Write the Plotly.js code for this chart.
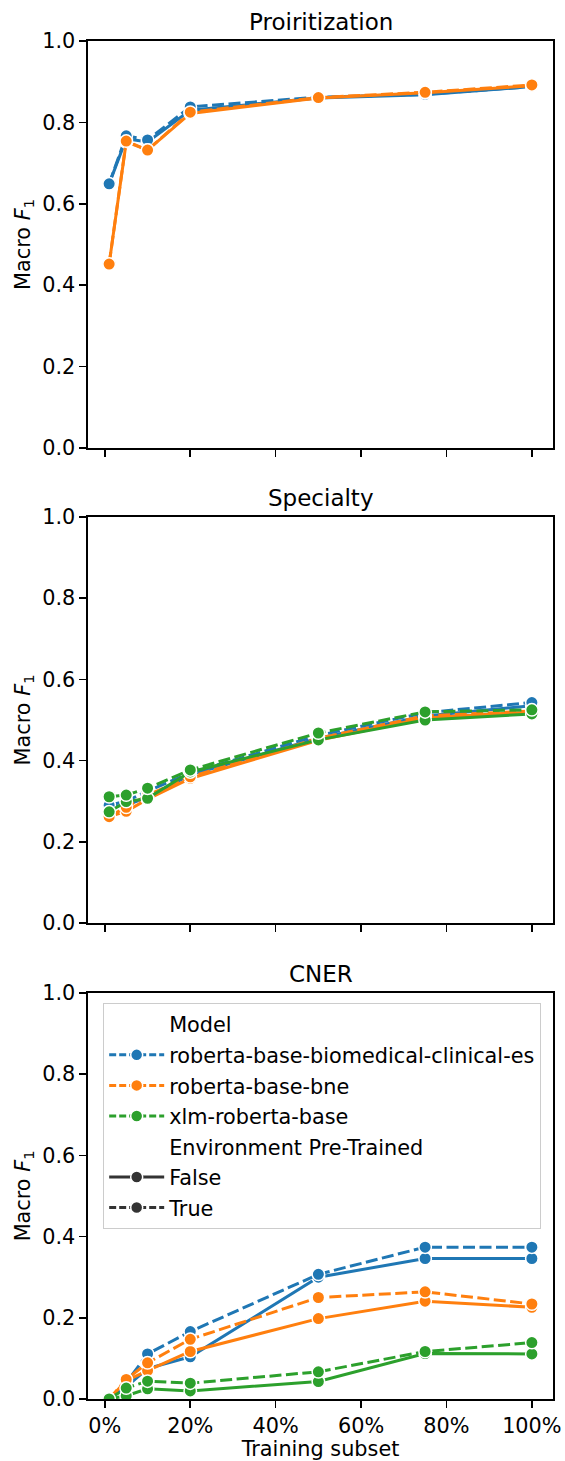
<!DOCTYPE html>
<html>
<head>
<meta charset="utf-8">
<script src="https://cdn.plot.ly/plotly-3.0.1.min.js"></script>
<style>html,body{margin:0;padding:0;background:#fff;}#chart{width:565px;height:1461px;}</style>
</head>
<body>
<div id="chart"></div>
<script>
// ---- data ----
const subsets = [1, 5, 10, 20, 50, 75, 100];
const xTickVals = [0, 20, 40, 60, 80, 100];
const xTickText = ["0%", "20%", "40%", "60%", "80%", "100%"];
const yTickVals = [0, 0.2, 0.4, 0.6, 0.8, 1.0];
const yTickText = ["0.0", "0.2", "0.4", "0.6", "0.8", "1.0"];
const panelTitles = ["Proiritization", "Specialty", "CNER"];
const models = ["roberta-base-biomedical-clinical-es", "roberta-base-bne", "xlm-roberta-base"];
const modelColors = ["#1f77b4", "#ff7f0e", "#2ca02c"];
const pretrainedLevels = ["False", "True"];

// Prioritization
const prio_bio_false = [0.649, 0.760, 0.752, 0.830, 0.860, 0.868, 0.888];
const prio_bio_true  = [0.649, 0.767, 0.757, 0.838, 0.862, 0.869, 0.888];
const prio_bne_false = [0.452, 0.752, 0.732, 0.822, 0.860, 0.873, 0.890];
const prio_bne_true  = [0.452, 0.754, 0.732, 0.825, 0.861, 0.874, 0.892];
// Specialty
const spec_bio_false = [0.285, 0.290, 0.310, 0.365, 0.455, 0.510, 0.535];
const spec_bio_true  = [0.290, 0.300, 0.325, 0.370, 0.462, 0.518, 0.543];
const spec_bne_false = [0.262, 0.275, 0.305, 0.356, 0.450, 0.505, 0.520];
const spec_bne_true  = [0.262, 0.285, 0.315, 0.360, 0.455, 0.510, 0.522];
const spec_xlm_false = [0.274, 0.299, 0.307, 0.372, 0.451, 0.500, 0.515];
const spec_xlm_true  = [0.311, 0.315, 0.332, 0.377, 0.468, 0.520, 0.525];
// CNER
const cner_bio_false = [0.000, 0.030, 0.075, 0.104, 0.300, 0.346, 0.346];
const cner_bio_true  = [0.000, 0.040, 0.111, 0.166, 0.307, 0.374, 0.374];
const cner_bne_false = [0.000, 0.045, 0.070, 0.117, 0.198, 0.241, 0.226];
const cner_bne_true  = [0.000, 0.048, 0.089, 0.147, 0.250, 0.264, 0.234];
const cner_xlm_false = [0.000, 0.008, 0.025, 0.020, 0.043, 0.112, 0.111];
const cner_xlm_true  = [0.000, 0.027, 0.044, 0.039, 0.067, 0.117, 0.139];

// ---- build ----
const FONT = "DejaVu Sans, Liberation Sans, sans-serif";
const FS = 20.8;
const DASH = "12px,4.5px";
const LW = 3;
const panels = [
  [[prio_bio_false, prio_bio_true], [prio_bne_false, prio_bne_true], null],
  [[spec_bio_false, spec_bio_true], [spec_bne_false, spec_bne_true], [spec_xlm_false, spec_xlm_true]],
  [[cner_bio_false, cner_bio_true], [cner_bne_false, cner_bne_true], [cner_xlm_false, cner_xlm_true]]
];
const traces = [];
panels.forEach((panel, p) => {
  const ax = p === 0 ? "" : String(p + 1);
  panel.forEach((pair, m) => {
    if (!pair) return;
    pair.forEach((vals, s) => {
      traces.push({
        x: subsets, y: vals, xaxis: "x" + ax, yaxis: "y" + ax,
        mode: "lines+markers", showlegend: false, hoverinfo: "skip",
        line: {color: modelColors[m], width: LW, dash: s === 0 ? "solid" : DASH},
        marker: {color: modelColors[m], size: 12.5, line: {color: "#ffffff", width: 1.5}}
      });
    });
  });
});
// legend entries
let g = 0;
function legendTrace(name, mode, color, dash, hidden) {
  g++;
  traces.push({
    x: [null], y: [null], xaxis: "x3", yaxis: "y3", name: name, legendgroup: "g" + g,
    mode: mode, showlegend: true, hoverinfo: "skip",
    line: {color: hidden ? "rgba(0,0,0,0)" : color, width: LW, dash: dash},
    marker: {color: hidden ? "rgba(0,0,0,0)" : color, size: 12, line: {color: "#ffffff", width: 1.5}}
  });
}
legendTrace("Model", "lines", "#000", "solid", true);
models.forEach((m, i) => legendTrace(m, "lines+markers", modelColors[i], "7px,3px", false));
legendTrace("Environment Pre-Trained", "lines", "#000", "solid", true);
pretrainedLevels.forEach((lv, i) => legendTrace(lv, "lines+markers", "#333333", i === 0 ? "solid" : "7px,3px", false));

const domains = [[0.7003, 1.0], [0.3505, 0.6495], [0.0, 0.299]];
const layout = {
  width: 565, height: 1461,
  margin: {l: 88, r: 12, t: 41, b: 62},
  paper_bgcolor: "#ffffff", plot_bgcolor: "#ffffff",
  font: {family: FONT, size: FS, color: "#000"},
  showlegend: true,
  legend: {
    x: 0.032, y: 0.2916, xanchor: "left", yanchor: "top",
    bgcolor: "rgba(255,255,255,0.8)", bordercolor: "#cccccc", borderwidth: 1.3,
    font: {family: FONT, size: FS, color: "#000"},
    tracegroupgap: 0.5, traceorder: "grouped", itemwidth: 55
  },
  annotations: []
};
domains.forEach((d, i) => {
  const ax = i === 0 ? "" : String(i + 1);
  layout["xaxis" + ax] = {
    domain: [0, 1], anchor: "y" + ax, range: [-3.95, 104.95],
    tickvals: xTickVals, ticktext: xTickText, showticklabels: i === 2,
    ticks: "outside", ticklen: 7, tickwidth: 1.6, tickcolor: "#000",
    showline: true, linecolor: "#000", linewidth: 1.6, mirror: true,
    showgrid: false, zeroline: false, automargin: false,
    tickfont: {family: FONT, size: FS, color: "#000"},
    title: i === 2 ? {text: "Training subset", font: {family: FONT, size: FS, color: "#000"}, standoff: 2} : {text: ""}
  };
  layout["yaxis" + ax] = {
    domain: d, anchor: "x" + ax, range: [0, 1],
    tickvals: yTickVals, ticktext: yTickText,
    ticks: "outside", ticklen: 7, tickwidth: 1.6, tickcolor: "#000",
    showline: true, linecolor: "#000", linewidth: 1.6, mirror: true,
    showgrid: false, zeroline: false, automargin: false,
    tickfont: {family: FONT, size: FS, color: "#000"},
    title: {text: "Macro <i>F</i><sub>1</sub>", font: {family: FONT, size: FS, color: "#000"}, standoff: 6}
  };
  layout.annotations.push({
    text: panelTitles[i], xref: "x" + ax + " domain", yref: "y" + ax + " domain",
    x: 0.5, y: 1, xanchor: "center", yanchor: "bottom", yshift: 4, showarrow: false,
    font: {family: FONT, size: 23, color: "#000"}
  });
});
Plotly.newPlot("chart", traces, layout, {displayModeBar: false, staticPlot: true});
</script>
</body>
</html>
